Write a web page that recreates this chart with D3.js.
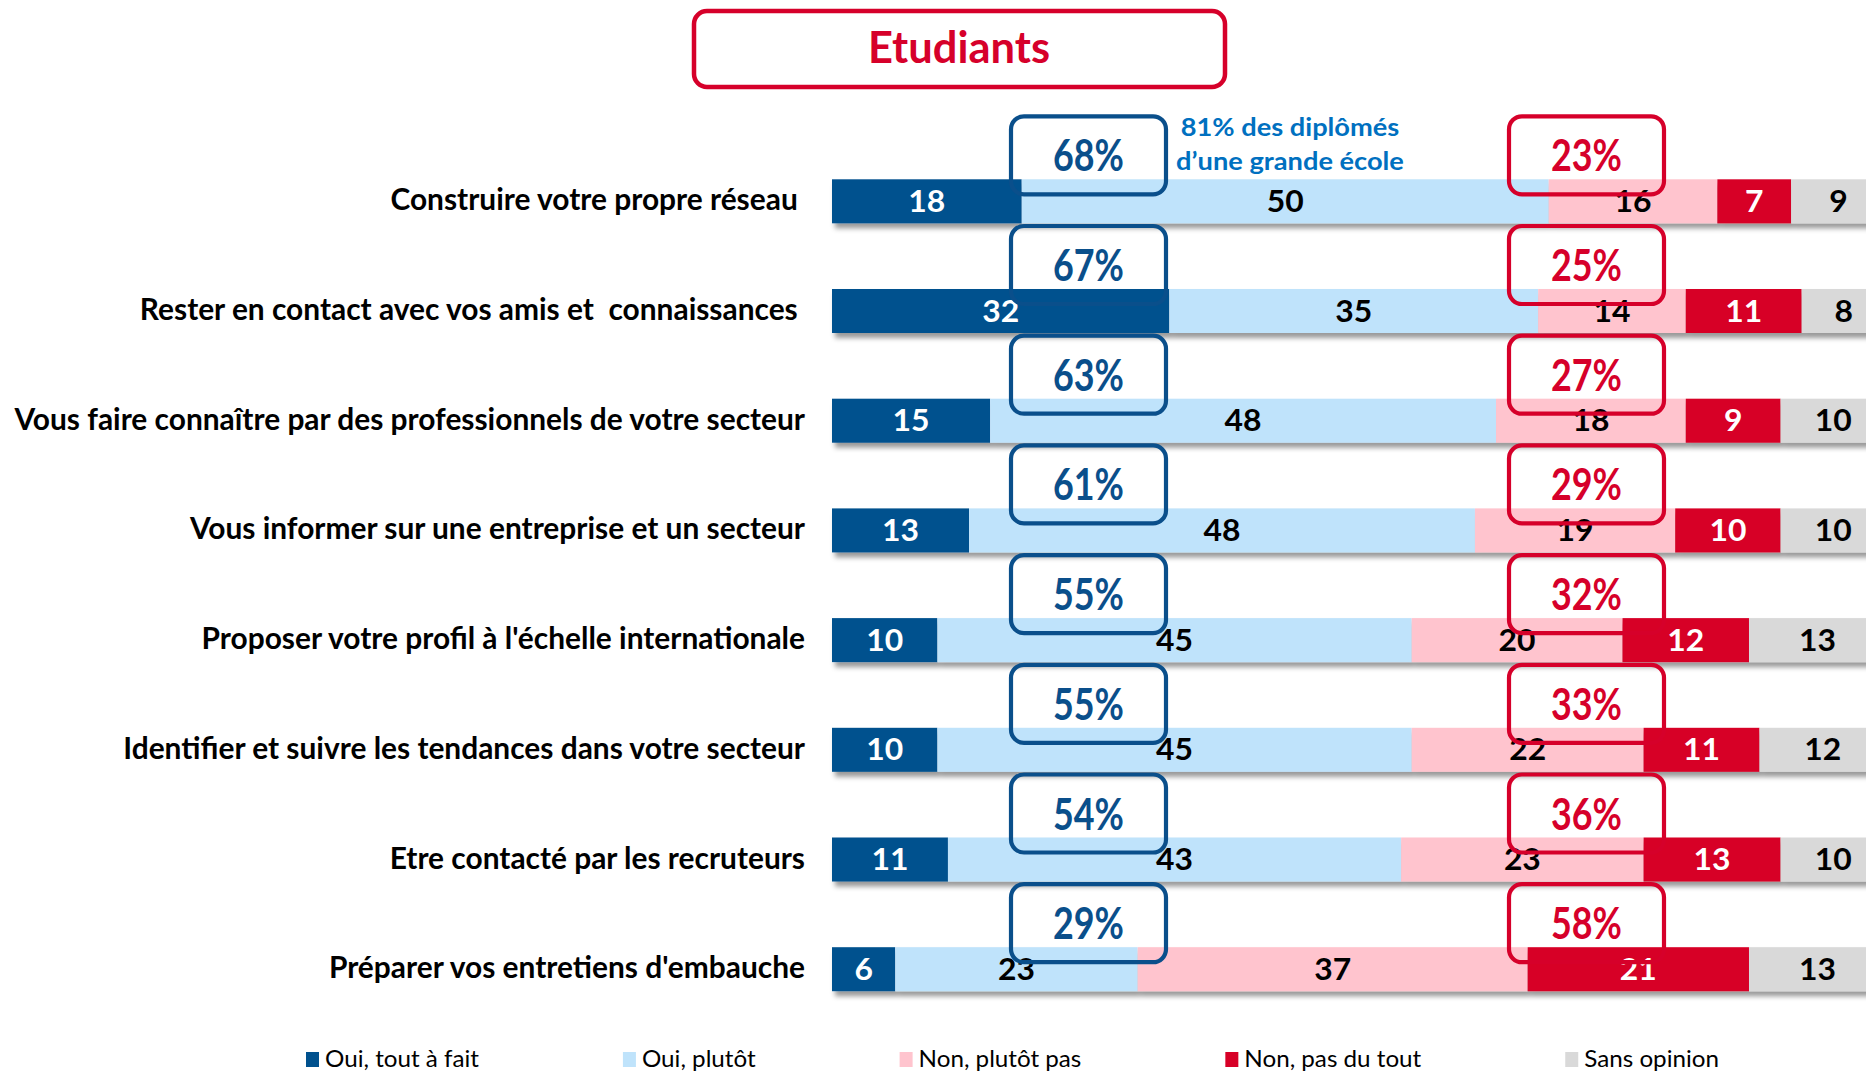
<!DOCTYPE html>
<html>
<head>
<meta charset="utf-8">
<script src="https://cdn.jsdelivr.net/npm/d3@7"></script>
<style>
  html, body { margin: 0; padding: 0; background: #ffffff; overflow: hidden; }
  svg { display: block; }
  .cat { white-space: pre; }
</style>
</head>
<body>
<svg id="chart" width="1866" height="1071"></svg>
<script>
// ---------------- DATA ----------------
const title = "Etudiants";
const categories = [
  "Construire votre propre réseau ",
  "Rester en contact avec vos amis et  connaissances ",
  "Vous faire connaître par des professionnels de votre secteur",
  "Vous informer sur une entreprise et un secteur",
  "Proposer votre profil à l'échelle internationale",
  "Identifier et suivre les tendances dans votre secteur",
  "Etre contacté par les recruteurs",
  "Préparer vos entretiens d'embauche"
];
const seriesNames = ["Oui, tout à fait", "Oui, plutôt", "Non, plutôt pas", "Non, pas du tout", "Sans opinion"];
const ouiToutAFait = [18, 32, 15, 13, 10, 10, 11, 6];
const ouiPlutot    = [50, 35, 48, 48, 45, 45, 43, 23];
const nonPlutotPas = [16, 14, 18, 19, 20, 22, 23, 37];
const nonPasDuTout = [7, 11, 9, 10, 12, 11, 13, 21];
const sansOpinion  = [9, 8, 10, 10, 13, 12, 10, 13];
const totalOui = [68, 67, 63, 61, 55, 55, 54, 29];
const totalNon = [23, 25, 27, 29, 32, 33, 36, 58];
const annotationLines = ["81% des diplômés", "d’une grande école"];

// ---------------- STYLE ----------------
const colors = ["#00518E", "#BFE3FB", "#FFC4CE", "#D70027", "#D9D9D9"];
const labelColors = ["#ffffff", "#000000", "#000000", "#ffffff", "#000000"];
const blueDark = "#0A4F8B";
const redMain = "#D6002A";
const FONT = "Lato, 'Open Sans', 'Noto Sans', sans-serif";

const svg = d3.select("#chart");

// drop shadow
const defs = svg.append("defs");
const f = defs.append("filter").attr("id", "shadow")
  .attr("x", "-5%").attr("y", "-30%").attr("width", "115%").attr("height", "190%");
f.append("feDropShadow").attr("dx", 3).attr("dy", 5).attr("stdDeviation", 2.5)
  .attr("flood-color", "#000").attr("flood-opacity", 0.4);

// text horizontal-fit helper
function hScale(weight, size, sample, target) {
  const t = svg.append("text").attr("font-family", FONT).attr("font-weight", weight)
    .attr("font-size", size).text(sample);
  const w = t.node().getComputedTextLength();
  t.remove();
  return w > 0 ? target / w : 1;
}

// ---------------- SCALES ----------------
const x = d3.scaleLinear().domain([0, 100]).range([832, 1886]);
const y = d3.scalePoint().domain(categories).range([201.3, 969.2]);
const barH = 44;

const rows = categories.map((c, i) => ({
  cat: c,
  s0: ouiToutAFait[i], s1: ouiPlutot[i], s2: nonPlutotPas[i], s3: nonPasDuTout[i], s4: sansOpinion[i]
}));
const keys = ["s0", "s1", "s2", "s3", "s4"];
const stacked = d3.stack().keys(keys)(rows);

// ---------------- TITLE ----------------
const titleSx = hScale(700, 43, title, 182);
svg.append("rect").attr("x", 694).attr("y", 11).attr("width", 531).attr("height", 76)
  .attr("rx", 13).attr("fill", "#fff").attr("stroke", redMain).attr("stroke-width", 4.5);
svg.append("text").attr("font-family", FONT).attr("font-weight", 700).attr("font-size", 43)
  .attr("fill", redMain).attr("text-anchor", "middle")
  .attr("transform", `translate(959,63) scale(${titleSx},1)`).text(title);

// ---------------- BARS ----------------
const rowG = svg.append("g").selectAll("g.row").data(categories).join("g")
  .attr("class", "row").attr("filter", "url(#shadow)");
rowG.each(function(cat, i) {
  const g = d3.select(this);
  stacked.forEach((layer, k) => {
    const d = layer[i];
    g.append("rect")
      .attr("x", x(d[0])).attr("width", x(d[1]) - x(d[0]))
      .attr("y", y(cat) - barH / 2).attr("height", barH)
      .attr("fill", colors[k]);
  });
});

// value labels
const valSx = hScale(700, 31, "50", 37);
const valG = svg.append("g");
stacked.forEach((layer, k) => {
  valG.selectAll(null).data(layer).join("text")
    .attr("font-family", FONT).attr("font-weight", 700).attr("font-size", 31)
    .attr("fill", labelColors[k]).attr("text-anchor", "middle")
    .attr("transform", (d, i) => `translate(${(x(d[0]) + x(d[1])) / 2},${y(categories[i]) + 10.5}) scale(${valSx},1)`)
    .text(d => d[1] - d[0]);
});

// category labels
const catSx = hScale(700, 31, categories[2], 791);
svg.append("g").selectAll("text").data(categories).join("text")
  .attr("class", "cat")
  .attr("font-family", FONT).attr("font-weight", 700).attr("font-size", 31)
  .attr("fill", "#000").attr("text-anchor", "end")
  .attr("transform", d => `translate(805,${y(d) + 9}) scale(${catSx},1)`)
  .text(d => d);

// ---------------- ANNOTATION ----------------
const annSx = hScale(700, 25, annotationLines[1], 228);
svg.append("g").selectAll("text").data(annotationLines).join("text")
  .attr("font-family", FONT).attr("font-weight", 700).attr("font-size", 25)
  .attr("fill", "#0070C0").attr("text-anchor", "middle")
  .attr("transform", (d, i) => `translate(1290,${136 + i * 34}) scale(${annSx},1)`)
  .text(d => d);

// ---------------- BOXES ----------------
const boxW = 155, boxH = 78;
const boxes = [
  { vals: totalOui, x0: 1011, color: blueDark },
  { vals: totalNon, x0: 1509, color: redMain }
];
const pctSx = hScale(700, 44, "68%", 71);
boxes.forEach(b => {
  const g = svg.append("g");
  g.selectAll("rect").data(categories).join("rect")
    .attr("x", b.x0).attr("y", d => y(d) - 85).attr("width", boxW).attr("height", boxH)
    .attr("rx", 13).attr("fill", "none").attr("stroke", b.color).attr("stroke-width", 4.2);
  g.selectAll("text").data(categories).join("text")
    .attr("font-family", FONT).attr("font-weight", 700).attr("font-size", 44)
    .attr("fill", b.color).attr("text-anchor", "middle")
    .attr("transform", (d, i) => `translate(${b.x0 + boxW / 2},${y(d) - 30}) scale(${pctSx},1)`)
    .text((d, i) => b.vals[i] + "%");
});

// ---------------- LEGEND ----------------
const legSx = hScale(400, 23, seriesNames[0], 154);
const legG = svg.append("g");
let lx = 306;
seriesNames.forEach((name, k) => {
  legG.append("rect").attr("x", lx).attr("y", 1052).attr("width", 13).attr("height", 15)
    .attr("fill", colors[k]);
  const t = legG.append("text").attr("font-family", FONT).attr("font-weight", 400)
    .attr("font-size", 23).attr("fill", "#000")
    .attr("transform", `translate(${lx + 19},1067) scale(${legSx},1)`).text(name);
  const w = t.node().getComputedTextLength() * legSx;
  lx += 19 + w + 144;
});
</script>
</body>
</html>
